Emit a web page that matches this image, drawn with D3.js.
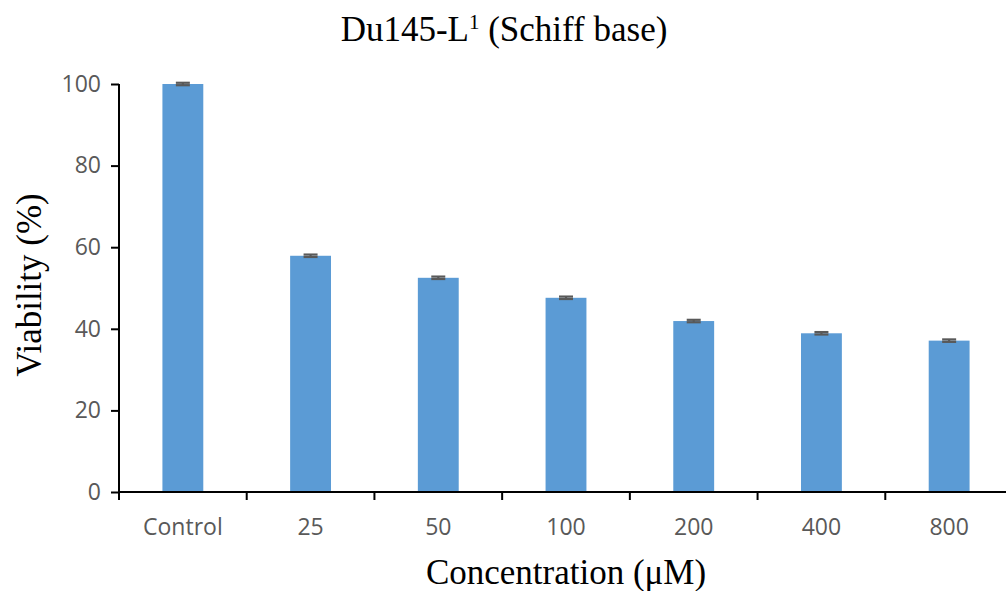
<!DOCTYPE html>
<html>
<head>
<meta charset="utf-8">
<script src="https://cdn.jsdelivr.net/npm/d3@7/dist/d3.min.js"></script>
<style>
  html, body { margin: 0; padding: 0; background: #fff; }
  svg { display: block; }
</style>
</head>
<body>
<svg id="chart" width="1006" height="591"></svg>
<script>
// Cell viability of Du145 cells treated with the Schiff base ligand
const categories = ["Control", "25", "50", "100", "200", "400", "800"];
const viability = [100, 57.9, 52.5, 47.6, 41.9, 38.9, 37.1];
const errors = [0.3, 0.3, 0.3, 0.3, 0.3, 0.3, 0.3];
const yTicks = [0, 20, 40, 60, 80, 100];

const svg = d3.select("#chart");
const W = 1006, H = 591;
const plotLeft = 119, plotRight = 1013, plotTop = 84, plotBottom = 492;

const x = d3.scaleBand().domain(categories).range([plotLeft, plotRight]).padding(0);
const y = d3.scaleLinear().domain([0, 100]).range([plotBottom, plotTop]);
const barW = x.bandwidth() * 0.32;

const data = categories.map((c, i) => ({ c, v: viability[i], e: errors[i] }));

// bars
svg.append("g").selectAll("rect").data(data).join("rect")
  .attr("x", d => x(d.c) + x.bandwidth() / 2 - barW / 2)
  .attr("y", d => y(d.v))
  .attr("width", barW)
  .attr("height", d => y(0) - y(d.v))
  .attr("fill", "#5B9BD5");

// error bars
const eb = svg.append("g").attr("stroke", "#595959").attr("stroke-width", 2.2);
data.forEach(d => {
  const cx = x(d.c) + x.bandwidth() / 2;
  eb.append("line").attr("x1", cx).attr("x2", cx).attr("y1", y(d.v - d.e)).attr("y2", y(d.v + d.e));
  [d.v - d.e, d.v + d.e].forEach(v => {
    eb.append("line").attr("x1", cx - 7).attr("x2", cx + 7).attr("y1", y(v)).attr("y2", y(v));
  });
});

// y axis
const yAxis = svg.append("g").attr("transform", `translate(${plotLeft},0)`)
  .call(d3.axisLeft(y).tickValues(yTicks).tickSize(8).tickPadding(10).tickSizeOuter(0));
yAxis.select(".domain").attr("stroke", "#000").attr("stroke-width", 2)
  .attr("d", `M0,${plotTop}V${plotBottom + 8}`);
yAxis.selectAll(".tick line").attr("stroke", "#000").attr("stroke-width", 2);
yAxis.selectAll(".tick text").attr("fill", "#595959")
  .style("font-family", "'Open Sans', sans-serif").style("font-size", "23px");

// x axis
const xAxis = svg.append("g").attr("transform", `translate(0,${plotBottom})`)
  .call(d3.axisBottom(x).tickSize(0).tickPadding(27).tickSizeOuter(0));
xAxis.select(".domain").attr("stroke", "#000").attr("stroke-width", 2)
  .attr("d", `M${plotLeft},0H${W}`);
xAxis.selectAll(".tick text").attr("fill", "#595959")
  .style("font-family", "'Open Sans', sans-serif").style("font-size", "23px");
// category boundary ticks
xAxis.selectAll(".sep").data(categories.slice(1)).join("line")
  .attr("x1", d => x(d)).attr("x2", d => x(d))
  .attr("y1", 0).attr("y2", 8)
  .attr("stroke", "#000").attr("stroke-width", 2);

// titles
const serif = "'Liberation Serif', 'Times New Roman', serif";
const title = svg.append("text")
  .attr("x", 504).attr("y", 41)
  .attr("text-anchor", "middle")
  .style("font-family", serif).style("font-size", "35px").attr("fill", "#000");
title.append("tspan").text("Du145-L");
title.append("tspan").text("1").attr("dy", -12).style("font-size", "21px");
title.append("tspan").text(" (Schiff base)").attr("dy", 12);

svg.append("text")
  .attr("transform", `translate(41,285) rotate(-90)`)
  .attr("text-anchor", "middle")
  .style("font-family", serif).style("font-size", "35px").attr("fill", "#000")
  .text("Viability (%)");

svg.append("text")
  .attr("x", 566).attr("y", 584)
  .attr("text-anchor", "middle")
  .style("font-family", serif).style("font-size", "35px").attr("fill", "#000")
  .text("Concentration (\u03BCM)");
</script>
</body>
</html>
